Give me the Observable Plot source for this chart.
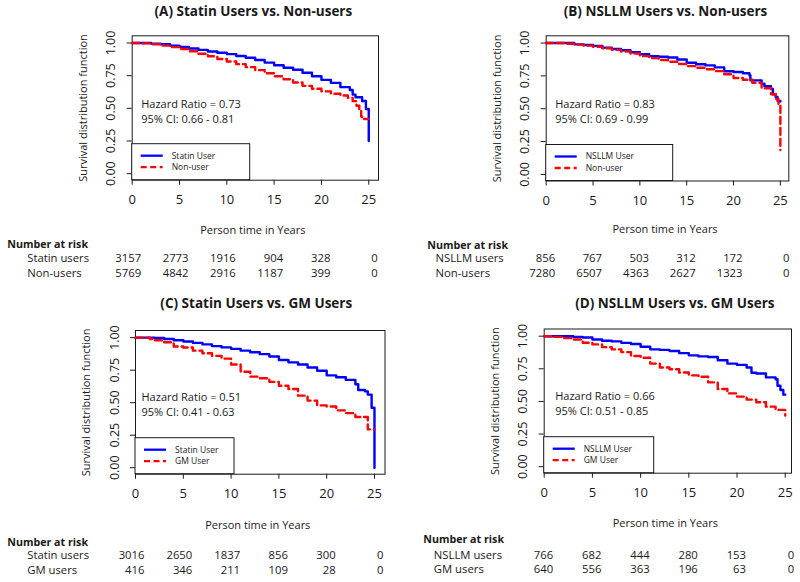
<!DOCTYPE html>
<html>
<head>
<meta charset="utf-8">
<script src="https://cdn.jsdelivr.net/npm/d3@7"></script>
<script src="https://cdn.jsdelivr.net/npm/@observablehq/plot@0.6"></script>
<style>
  html, body { margin: 0; padding: 0; background: #fff; }
  #chart { position: relative; width: 800px; height: 582px; background: #fff; overflow: hidden; }
  .panel { position: absolute; }
</style>
</head>
<body>
<div id="chart"></div>
<script>
// ---------------- DATA ----------------
const panelTitles = [
  "(A) Statin Users vs. Non-users",
  "(B) NSLLM Users vs. Non-users",
  "(C) Statin Users vs. GM Users",
  "(D) NSLLM Users vs. GM Users"
];
const legendLabels = [
  ["Statin User", "Non-user"],
  ["NSLLM User", "Non-user"],
  ["Statin User", "GM User"],
  ["NSLLM User", "GM User"]
];
const hazardLines = [
  ["Hazard Ratio = 0.73", "95% CI: 0.66 - 0.81"],
  ["Hazard Ratio = 0.83", "95% CI: 0.69 - 0.99"],
  ["Hazard Ratio = 0.51", "95% CI: 0.41 - 0.63"],
  ["Hazard Ratio = 0.66", "95% CI: 0.51 - 0.85"]
];
const xTitle = "Person time in Years";
const yTitle = "Survival distribution function";
const riskHeading = "Number at risk";
const riskTimes = [0, 5, 10, 15, 20, 25];
const yTicks = [0, 0.25, 0.5, 0.75, 1];
const riskRowLabels = [
  ["Statin users", "Non-users"],
  ["NSLLM users", "Non-users"],
  ["Statin users", "GM users"],
  ["NSLLM users", "GM users"]
];
const riskA1 = [3157, 2773, 1916, 904, 328, 0];
const riskA2 = [5769, 4842, 2916, 1187, 399, 0];
const riskB1 = [856, 767, 503, 312, 172, 0];
const riskB2 = [7280, 6507, 4363, 2627, 1323, 0];
const riskC1 = [3016, 2650, 1837, 856, 300, 0];
const riskC2 = [416, 346, 211, 109, 28, 0];
const riskD1 = [766, 682, 444, 280, 153, 0];
const riskD2 = [640, 556, 363, 196, 63, 0];

// Kaplan-Meier curves: [years, survival]
const survA_statin = [[0,1],[1,1],[2,0.995],[3,0.99],[4,0.98],[5,0.97],[6,0.958],[7,0.947],[8,0.935],[9,0.925],[10,0.915],[11,0.9],[12,0.887],[13,0.87],[14,0.85],[15,0.83],[16,0.81],[17,0.795],[18,0.772],[19,0.745],[20,0.718],[21,0.695],[22,0.662],[23,0.64],[23.3,0.605],[23.6,0.585],[24.3,0.556],[24.7,0.495],[25,0.25]];
const survA_non = [[0,1],[1,0.997],[2,0.99],[3,0.98],[4,0.968],[5,0.954],[6,0.937],[7,0.918],[8,0.898],[9,0.878],[10,0.858],[11,0.838],[12,0.815],[13,0.792],[14,0.768],[15,0.745],[16,0.722],[17,0.698],[18,0.672],[19,0.65],[20,0.63],[21,0.612],[22,0.598],[22.8,0.58],[23.3,0.555],[23.7,0.52],[24,0.487],[24.2,0.437],[24.3,0.418],[25,0.418]];
const survB_nsllm = [[0,1],[1,1],[2,1],[3,0.99],[4,0.985],[5,0.978],[6,0.965],[7,0.955],[8,0.945],[9,0.93],[10,0.915],[11,0.9],[12,0.895],[13,0.89],[14,0.875],[15,0.85],[16,0.838],[17,0.83],[18,0.815],[19,0.785],[20,0.78],[21,0.77],[21.7,0.755],[21.8,0.716],[23,0.69],[23.3,0.672],[24,0.651],[24.2,0.61],[24.5,0.59],[24.7,0.56],[25,0.555]];
const survB_non = [[0,1],[1,1],[2,0.995],[3,0.988],[4,0.98],[5,0.972],[6,0.96],[7,0.948],[8,0.935],[9,0.92],[10,0.9],[11,0.885],[12,0.871],[13,0.857],[14,0.84],[15,0.824],[16,0.812],[17,0.8],[18,0.786],[19,0.762],[20,0.734],[21,0.72],[22,0.698],[23,0.656],[24,0.61],[24.5,0.574],[24.8,0.535],[25,0.186]];
const survC_statin = [[0,1],[1,1],[2,0.998],[3,0.99],[4,0.98],[5,0.97],[6,0.96],[7,0.948],[8,0.935],[9,0.925],[10,0.914],[11,0.9],[12,0.888],[13,0.873],[14,0.855],[15,0.828],[16,0.81],[17,0.793],[18,0.77],[19,0.745],[20,0.71],[21,0.695],[22,0.675],[23,0.642],[23.3,0.597],[24,0.587],[24.3,0.562],[24.7,0.461],[25,0]];
const survC_gm = [[0,1],[1.5,0.99],[2,0.98],[3,0.965],[4,0.932],[5,0.924],[6,0.9],[7,0.88],[8,0.86],[9,0.839],[10,0.793],[11,0.738],[12,0.7],[13,0.688],[14,0.66],[15,0.63],[16,0.605],[17,0.554],[18,0.516],[19,0.479],[20,0.471],[21,0.441],[22,0.42],[23,0.39],[24,0.39],[24.3,0.295],[25,0.295]];
const survD_nsllm = [[0,1],[1,1],[2,1],[2.5,1],[3,0.995],[4,0.99],[5,0.975],[6,0.965],[7,0.96],[8,0.949],[9,0.94],[10,0.919],[11,0.899],[12,0.895],[13,0.886],[14,0.87],[15,0.853],[16,0.845],[17,0.84],[18,0.815],[19,0.79],[20,0.78],[21,0.76],[21.5,0.72],[22,0.714],[23,0.684],[24,0.67],[24.2,0.62],[24.5,0.587],[24.8,0.552],[25,0.552]];
const survD_gm = [[0,1],[1,0.995],[2,0.985],[3,0.975],[4,0.95],[5,0.937],[6,0.916],[7,0.899],[8,0.878],[9,0.848],[10,0.835],[11,0.79],[12,0.76],[13,0.747],[14,0.722],[15,0.7],[16,0.689],[17,0.646],[18,0.595],[19,0.562],[20,0.537],[21,0.514],[22,0.494],[23,0.46],[24,0.435],[25,0.392]];

// ---------------- LAYOUT ----------------
const layout = [
  {px: 0,   py: 0,   H: 290, left: 131.7, right: 22,   top: 35.3, bottom: 110.3, xMax: 26.03, legendW: 118, titleY: 11, titleDx: -2, hzDx: 9,  hzY: 67.7, xTitleY: 230,   headY: 244.3, rowY: [258.3, 273.3], headX: 6.7,  labelX: 26.7},
  {px: 400, py: 0,   H: 290, left: 145.7, right: 11.7, top: 35.3, bottom: 109.5, xMax: 25.9,  legendW: 127, titleY: 11, titleDx: -2, hzDx: 9,  hzY: 67.7, xTitleY: 229.3, headY: 245,   rowY: [258.3, 273.3], headX: 26.7, labelX: 35},
  {px: 0,   py: 290, H: 292, left: 135,   right: 15.5, top: 40,   bottom: 108.3, xMax: 26.1,  legendW: 99,  titleY: 13, titleDx: -4, hzDx: 6,  hzY: 66,   xTitleY: 235,   headY: 251.7, rowY: [265, 280],     headX: 6.7,  labelX: 26.7},
  {px: 400, py: 290, H: 292, left: 143.7, right: 9,    top: 38.5, bottom: 109.3, xMax: 25.65, legendW: 110, titleY: 13, titleDx: 7,  hzDx: 11, hzY: 66.5, xTitleY: 233.3, headY: 249.3, rowY: [265, 279.3], headX: 22.7, labelX: 33.3}
];

const panels = [
  {curves: [survA_statin, survA_non], risk: [riskA1, riskA2]},
  {curves: [survB_nsllm, survB_non], risk: [riskB1, riskB2]},
  {curves: [survC_statin, survC_gm], risk: [riskC1, riskC2]},
  {curves: [survD_nsllm, survD_gm], risk: [riskD1, riskD2]}
];

const BLUE = "#0000ff", RED = "#ff0000", INK = "#1a1a1a";
const FONT = "'Open Sans', Lato, sans-serif";

function legendMark(labels, w) {
  return (index, scales, values, dims) => {
    const x0 = dims.marginLeft;
    const yb = dims.height - dims.marginBottom;
    const h = 36;
    const g = d3.create("svg:g");
    g.append("rect").attr("x", x0).attr("y", yb - h).attr("width", w).attr("height", h)
      .attr("fill", "white").attr("stroke", INK).attr("stroke-width", 1);
    const styles = [{c: BLUE, d: null}, {c: RED, d: "6,3.5"}];
    labels.forEach((lab, i) => {
      const yy = yb - h + 12 + i * 11.5;
      const ln = g.append("line").attr("x1", x0 + 9).attr("x2", x0 + 31).attr("y1", yy).attr("y2", yy)
        .attr("stroke", styles[i].c).attr("stroke-width", 2.3);
      if (styles[i].d) ln.attr("stroke-dasharray", styles[i].d);
      g.append("text").attr("x", x0 + 40).attr("y", yy).attr("dy", "0.35em")
        .attr("text-anchor", "start")
        .attr("font-size", 8.5).attr("fill", INK).attr("font-family", FONT).text(lab);
    });
    return g.node();
  };
}

const root = document.getElementById("chart");

panels.forEach((p, k) => {
  const L = layout[k];
  const fb = L.H - L.bottom;           // frame bottom (panel coords)
  const marks = [
    Plot.frame({stroke: INK, strokeWidth: 1}),
    Plot.axisX({ticks: riskTimes, tickSize: 5, tickPadding: 10, fontSize: 13, label: null, stroke: INK}),
    Plot.axisY({ticks: yTicks, tickSize: 5, tickFormat: () => "", label: null, stroke: INK}),
    Plot.text(yTicks, {y: d => d, text: d => d.toFixed(2), frameAnchor: "left", dx: -21, rotate: -90,
      textAnchor: "middle", lineAnchor: "middle", fontSize: 12.5}),
    Plot.text([yTitle], {text: d => d, frameAnchor: "left", dx: -49, rotate: -90, fontSize: 11,
      textAnchor: "middle", lineAnchor: "middle"}),
    Plot.text([panelTitles[k]], {text: d => d, frameAnchor: "top", dy: L.titleY - L.top, dx: L.titleDx,
      fontSize: 13.5, fontWeight: "bold", textAnchor: "middle", lineAnchor: "middle"}),
    Plot.text([xTitle], {text: d => d, frameAnchor: "bottom", dy: L.xTitleY - fb, dx: -2.5, fontSize: 11,
      textAnchor: "middle", lineAnchor: "middle"}),
    Plot.line(p.curves[0], {x: d => d[0], y: d => d[1], curve: "step-after", stroke: BLUE, strokeWidth: 2.4}),
    Plot.line(p.curves[1], {x: d => d[0], y: d => d[1], curve: "step-after", stroke: RED, strokeWidth: 2.4, strokeDasharray: "7,4"}),
    Plot.text([hazardLines[k].join("\n")], {text: d => d, frameAnchor: "top-left", dx: L.hzDx, dy: L.hzY + 7.5,
      textAnchor: "start", lineAnchor: "middle", lineHeight: 1.36, fontSize: 11}),
    legendMark(legendLabels[k], L.legendW),
    Plot.text([riskHeading], {text: d => d, frameAnchor: "bottom-left", dx: L.headX - L.left, dy: L.headY - fb,
      textAnchor: "start", lineAnchor: "middle", fontWeight: "bold", fontSize: 10.7}),
    ...[0, 1].map(r => Plot.text([riskRowLabels[k][r]], {text: d => d, frameAnchor: "bottom-left",
      dx: L.labelX - L.left, dy: L.rowY[r] - fb, textAnchor: "start", lineAnchor: "middle", fontSize: 11.3})),
    ...[0, 1].map(r => Plot.text(p.risk[r], {x: (d, i) => riskTimes[i], text: d => String(d), frameAnchor: "bottom",
      dy: L.rowY[r] - fb, dx: 9, textAnchor: "end", lineAnchor: "middle", fontSize: 11.3}))
  ];
  const svg = Plot.plot({
    width: 400, height: L.H,
    marginLeft: L.left, marginRight: L.right, marginTop: L.top, marginBottom: L.bottom,
    style: {fontFamily: FONT, background: "white", color: INK, overflow: "visible"},
    x: {domain: [0, L.xMax]},
    y: {domain: [-0.05, 1.055]},
    marks
  });
  const div = document.createElement("div");
  div.className = "panel";
  div.style.left = L.px + "px";
  div.style.top = L.py + "px";
  div.appendChild(svg);
  root.appendChild(div);
});
</script>
</body>
</html>
